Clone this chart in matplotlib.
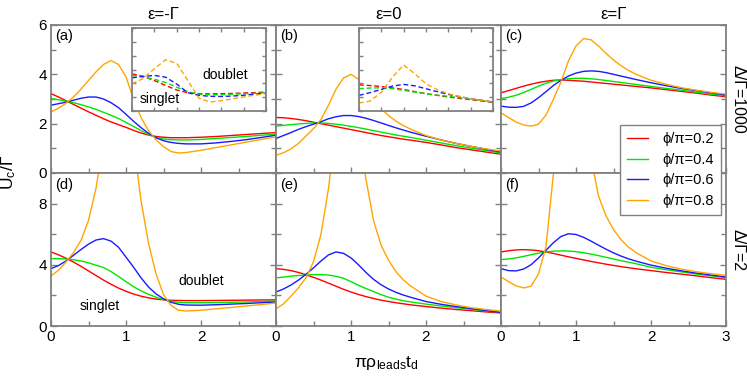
import matplotlib
matplotlib.use("Agg")
import matplotlib.pyplot as plt
from matplotlib.ticker import MultipleLocator, NullFormatter, FixedLocator
from matplotlib.lines import Line2D

plt.rcParams['font.family'] = ['Liberation Sans', 'DejaVu Sans']
plt.rcParams['mathtext.fontset'] = 'custom'
plt.rcParams['mathtext.rm'] = 'Liberation Sans'
plt.rcParams['mathtext.it'] = 'Liberation Sans:italic'

# x grid of the read-off points
X = [0, 0.1, 0.2, 0.3, 0.4, 0.5, 0.6, 0.7, 0.8, 0.9, 1.0, 1.1, 1.2, 1.3, 1.4,
     1.5, 1.6, 1.7, 1.8, 2.0, 2.2, 2.4, 2.6, 2.8, 3.0]
XI = [0, 0.25, 0.5, 0.75, 1.0, 1.25, 1.5, 1.75, 2.0, 2.25, 2.5, 2.75, 3.0]

phis = ["ϕ/π=0.2", "ϕ/π=0.4", "ϕ/π=0.6", "ϕ/π=0.8"]
colors = ["#ff0000", "#00e600", "#1a1aff", "#ffa500"]

# (a) eps=-Gamma, Delta/Gamma=1000
a_02 = [3.22, 3.08, 2.93, 2.78, 2.63, 2.48, 2.34, 2.20, 2.07, 1.96, 1.85, 1.73, 1.62,
        1.54, 1.48, 1.45, 1.43, 1.43, 1.43, 1.45, 1.48, 1.52, 1.56, 1.60, 1.64]
a_04 = [3.02, 2.97, 2.91, 2.85, 2.77, 2.68, 2.58, 2.46, 2.34, 2.21, 2.05, 1.89, 1.72,
        1.56, 1.44, 1.38, 1.35, 1.34, 1.34, 1.36, 1.40, 1.44, 1.48, 1.53, 1.57]
a_06 = [2.75, 2.81, 2.87, 2.95, 3.03, 3.08, 3.08, 3.00, 2.85, 2.65, 2.38, 2.10, 1.84,
        1.61, 1.43, 1.31, 1.24, 1.20, 1.18, 1.18, 1.22, 1.28, 1.35, 1.44, 1.53]
a_08 = [2.48, 2.63, 2.83, 3.08, 3.40, 3.75, 4.10, 4.40, 4.56, 4.40, 3.90, 3.00, 2.25,
        1.72, 1.35, 1.07, 0.87, 0.81, 0.83, 0.92, 1.03, 1.14, 1.25, 1.36, 1.46]

# (b) eps=0, Delta/Gamma=1000
b_02 = [2.25, 2.24, 2.21, 2.17, 2.12, 2.06, 2.00, 1.94, 1.88, 1.82, 1.76, 1.70, 1.64,
        1.58, 1.52, 1.47, 1.42, 1.37, 1.33, 1.24, 1.14, 1.03, 0.94, 0.85, 0.76]
b_04 = [1.90, 1.93, 1.96, 1.99, 2.01, 2.03, 2.03, 2.01, 1.98, 1.94, 1.89, 1.84, 1.78,
        1.72, 1.66, 1.60, 1.54, 1.49, 1.44, 1.33, 1.22, 1.11, 1.01, 0.91, 0.81]
b_06 = [1.40, 1.52, 1.64, 1.77, 1.88, 1.98, 2.08, 2.20, 2.28, 2.33, 2.33, 2.29, 2.22,
        2.13, 2.03, 1.93, 1.83, 1.74, 1.65, 1.49, 1.34, 1.20, 1.08, 0.96, 0.85]
b_08 = [0.72, 0.82, 0.98, 1.20, 1.50, 1.80, 2.17, 2.75, 3.40, 3.85, 4.00, 3.80, 3.40,
        2.98, 2.62, 2.33, 2.10, 1.92, 1.77, 1.52, 1.34, 1.20, 1.08, 0.98, 0.89]

# (c) eps=Gamma, Delta/Gamma=1000
c_02 = [3.25, 3.34, 3.43, 3.52, 3.60, 3.67, 3.72, 3.76, 3.77, 3.76, 3.74, 3.72, 3.69,
        3.66, 3.63, 3.60, 3.57, 3.54, 3.51, 3.45, 3.38, 3.31, 3.24, 3.16, 3.09]
c_04 = [3.02, 3.07, 3.15, 3.26, 3.39, 3.52, 3.64, 3.73, 3.78, 3.82, 3.84, 3.84, 3.82,
        3.79, 3.75, 3.71, 3.67, 3.63, 3.59, 3.51, 3.43, 3.36, 3.28, 3.20, 3.13]
c_06 = [2.71, 2.67, 2.66, 2.70, 2.84, 3.05, 3.30, 3.55, 3.76, 3.93, 4.05, 4.12, 4.14,
        4.12, 4.07, 4.00, 3.93, 3.86, 3.79, 3.66, 3.54, 3.43, 3.34, 3.25, 3.16]
c_08 = [2.44, 2.25, 2.07, 1.95, 1.90, 1.98, 2.35, 3.00, 3.70, 4.55, 5.15, 5.45, 5.40,
        5.15, 4.85, 4.58, 4.35, 4.16, 4.00, 3.76, 3.60, 3.46, 3.36, 3.27, 3.20]

# (d) eps=-Gamma, Delta/Gamma=2
d_02 = [4.84, 4.65, 4.43, 4.18, 3.90, 3.60, 3.30, 3.00, 2.73, 2.48, 2.27, 2.09, 1.95,
        1.84, 1.76, 1.71, 1.68, 1.67, 1.66, 1.66, 1.67, 1.68, 1.69, 1.70, 1.71]
d_04 = [4.40, 4.40, 4.38, 4.33, 4.25, 4.13, 3.97, 3.82, 3.56, 3.24, 2.90, 2.57, 2.30,
        2.07, 1.88, 1.73, 1.62, 1.55, 1.52, 1.52, 1.53, 1.55, 1.57, 1.60, 1.63]
d_06 = [3.75, 3.95, 4.25, 4.62, 5.00, 5.35, 5.62, 5.71, 5.55, 5.15, 4.50, 3.85, 3.15,
        2.55, 2.10, 1.78, 1.55, 1.42, 1.37, 1.36, 1.39, 1.43, 1.47, 1.52, 1.57]
d_08 = [3.27, 3.65, 4.18, 4.80, 5.60, 6.90, 9.00, 12.0, 15.0, 16.5, 15.5, 12.0, 8.20,
        5.40, 3.42, 2.05, 1.35, 1.03, 0.98, 1.03, 1.12, 1.21, 1.31, 1.40, 1.50]

# (e) eps=0, Delta/Gamma=2
e_02 = [3.75, 3.70, 3.62, 3.50, 3.35, 3.18, 3.00, 2.80, 2.60, 2.40, 2.22, 2.06, 1.92,
        1.80, 1.69, 1.60, 1.52, 1.45, 1.38, 1.27, 1.17, 1.08, 1.00, 0.92, 0.85]
e_04 = [3.14, 3.20, 3.26, 3.30, 3.33, 3.36, 3.36, 3.33, 3.25, 3.12, 2.90, 2.66, 2.45,
        2.25, 2.05, 1.88, 1.76, 1.65, 1.57, 1.43, 1.31, 1.20, 1.09, 0.99, 0.89]
e_06 = [2.22, 2.42, 2.68, 3.00, 3.38, 3.80, 4.25, 4.65, 4.84, 4.75, 4.45, 4.00, 3.50,
        3.05, 2.70, 2.42, 2.20, 2.02, 1.87, 1.60, 1.42, 1.27, 1.14, 1.01, 0.89]
e_08 = [1.13, 1.45, 1.95, 2.50, 3.15, 4.20, 6.00, 9.00, 13.0, 16.5, 16.0, 12.5, 9.60,
        6.90, 5.30, 4.30, 3.55, 3.00, 2.60, 1.95, 1.60, 1.38, 1.20, 1.08, 0.98]

# (f) eps=Gamma, Delta/Gamma=2
f_02 = [4.84, 4.92, 4.97, 4.99, 4.97, 4.92, 4.84, 4.74, 4.63, 4.52, 4.42, 4.32, 4.22,
        4.13, 4.04, 3.96, 3.88, 3.81, 3.74, 3.62, 3.50, 3.39, 3.28, 3.16, 3.05]
f_04 = [4.34, 4.38, 4.45, 4.55, 4.66, 4.76, 4.84, 4.89, 4.91, 4.90, 4.86, 4.79, 4.70,
        4.60, 4.49, 4.38, 4.27, 4.17, 4.07, 3.84, 3.68, 3.54, 3.40, 3.28, 3.16]
f_06 = [3.75, 3.62, 3.60, 3.72, 4.00, 4.45, 4.95, 5.45, 5.85, 6.03, 5.98, 5.80, 5.55,
        5.28, 5.02, 4.78, 4.57, 4.39, 4.24, 3.98, 3.78, 3.61, 3.46, 3.33, 3.20]
f_08 = [3.20, 2.90, 2.62, 2.49, 2.60, 3.40, 5.20, 10.0, 15.0, 19.0, 19.0, 15.5, 11.0,
        8.50, 7.20, 6.30, 5.65, 5.15, 4.80, 4.25, 3.95, 3.72, 3.55, 3.42, 3.31]

# insets (dashed)
ia_02 = [2.69, 2.50, 2.20, 1.85, 1.52, 1.32, 1.25, 1.24, 1.25, 1.27, 1.30, 1.33, 1.37]
ia_04 = [2.57, 2.47, 2.30, 2.06, 1.72, 1.40, 1.22, 1.18, 1.18, 1.21, 1.25, 1.28, 1.32]
ia_06 = [2.40, 2.50, 2.57, 2.45, 1.95, 1.32, 1.13, 1.06, 1.05, 1.08, 1.14, 1.22, 1.30]
ia_08 = [1.97, 2.35, 3.05, 3.70, 3.45, 2.20, 0.92, 0.65, 0.75, 0.88, 1.02, 1.14, 1.25]

ib_02 = [1.89, 1.84, 1.77, 1.67, 1.56, 1.40, 1.25, 1.13, 1.01, 0.91, 0.82, 0.72, 0.62]
ib_04 = [1.61, 1.66, 1.68, 1.62, 1.49, 1.37, 1.25, 1.15, 1.06, 0.96, 0.86, 0.76, 0.65]
ib_06 = [1.13, 1.33, 1.56, 1.80, 1.92, 1.82, 1.61, 1.40, 1.20, 1.04, 0.89, 0.77, 0.65]
ib_08 = [0.58, 0.72, 1.35, 2.45, 3.33, 2.69, 1.97, 1.55, 1.25, 1.05, 0.89, 0.76, 0.65]

panels = [
    ("(a)", [a_02, a_04, a_06, a_08]),
    ("(b)", [b_02, b_04, b_06, b_08]),
    ("(c)", [c_02, c_04, c_06, c_08]),
    ("(d)", [d_02, d_04, d_06, d_08]),
    ("(e)", [e_02, e_04, e_06, e_08]),
    ("(f)", [f_02, f_04, f_06, f_08]),
]
titles = ["ε=-Γ", "ε=0", "ε=Γ"]

W, H = 747, 379
fig = plt.figure(figsize=(W / 100, H / 100), dpi=100)
gray = "#808080"


def px_axes(x0, y0, x1, y1):
    return fig.add_axes([x0 / W, 1 - y1 / H, (x1 - x0) / W, (y1 - y0) / H])


def style(ax):
    for s in ax.spines.values():
        s.set_color(gray)
        s.set_linewidth(1.3)
    ax.tick_params(which="both", direction="in", color=gray, width=1.0,
                   labelsize=11, pad=3)
    ax.tick_params(which="major", length=4)
    ax.tick_params(which="minor", length=3.5)


lefts = [51, 276, 501]
for i, (lab, curves) in enumerate(panels):
    row, col = divmod(i, 3)
    x0 = lefts[col]
    if row == 0:
        ax = px_axes(x0, 25, x0 + 225, 173)
        ax.set_ylim(0, 6)
        ax.yaxis.set_major_locator(MultipleLocator(2))
        ax.yaxis.set_minor_locator(MultipleLocator(1))
    else:
        ax = px_axes(x0, 173, x0 + 225, 326)
        ax.set_ylim(0, 10)
        ax.yaxis.set_major_locator(FixedLocator([0, 4, 8]))
        ax.yaxis.set_minor_locator(FixedLocator([2, 6, 10]))
    ax.set_xlim(0, 3)
    ax.xaxis.set_major_locator(MultipleLocator(1))
    ax.xaxis.set_minor_locator(MultipleLocator(0.5))
    style(ax)
    ax.tick_params(which="both", right=True)
    if col != 0:
        ax.yaxis.set_major_formatter(NullFormatter())
    if row == 0:
        ax.xaxis.set_major_formatter(NullFormatter())
        ax.set_title(titles[col], fontsize=12, pad=4)
    elif col != 2:
        ax.set_xticks([0, 1, 2, 3], ["0", "1", "2", ""])
    for ys, c in zip(curves, colors):
        ax.plot(X, ys, color=c, lw=1.0)
    ax.text(0.02, 0.97, lab, transform=ax.transAxes, ha="left", va="top", fontsize=10.5)
    if lab == "(d)":
        ax.text(2.0, 2.95, "doublet", ha="center", va="center", fontsize=10)
        ax.text(0.65, 1.3, "singlet", ha="center", va="center", fontsize=10)

# insets
for x0, inset_curves, words in [(132, [ia_02, ia_04, ia_06, ia_08], True),
                                (359, [ib_02, ib_04, ib_06, ib_08], False)]:
    axi = px_axes(x0, 28, x0 + 134, 111)
    axi.set_zorder(5)
    axi.set_xlim(0, 3)
    axi.set_ylim(0, 6)
    axi.xaxis.set_major_locator(MultipleLocator(0.5))
    axi.yaxis.set_major_locator(MultipleLocator(1))
    style(axi)
    axi.tick_params(which="both", top=True, right=True, labelbottom=False, labelleft=False,
                    length=3)
    for ys, c in zip(inset_curves, colors):
        axi.plot(XI, ys, color=c, lw=1.0, ls=(0, (3.5, 2)))
    if words:
        axi.text(2.08, 2.6, "doublet", ha="center", va="center", fontsize=10)
        axi.text(0.63, 0.87, "singlet", ha="center", va="center", fontsize=10)

# labels
fig.text(9 / W, 1 - 172 / H, r"U$_\mathrm{c}$/Γ", rotation=90, ha="center", va="center",
         fontsize=12.5)
fig.text(386 / W, 1 - 363 / H, r"πρ$_\mathrm{leads}$t$_\mathrm{d}$", ha="center",
         va="center", fontsize=12.5)
fig.text(738 / W, 1 - 99 / H, "Δ/Γ=1000", rotation=-90, ha="center", va="center",
         fontsize=11.5)
fig.text(738 / W, 1 - 250 / H, "Δ/Γ=2", rotation=-90, ha="center", va="center",
         fontsize=11.5)

handles = [Line2D([], [], color=c, lw=1.0) for c in colors]
leg = fig.legend(handles, phis, loc="upper left",
                 bbox_to_anchor=(620 / W, 1 - 125 / H), fontsize=10.5,
                 frameon=True, fancybox=False, handlelength=1.4, handletextpad=1.0,
                 labelspacing=0.45, borderpad=0.5, borderaxespad=0)
leg.get_frame().set_edgecolor(gray)
leg.get_frame().set_linewidth(1.0)
leg.get_frame().set_alpha(1)

fig.savefig("out.png", dpi=100)
